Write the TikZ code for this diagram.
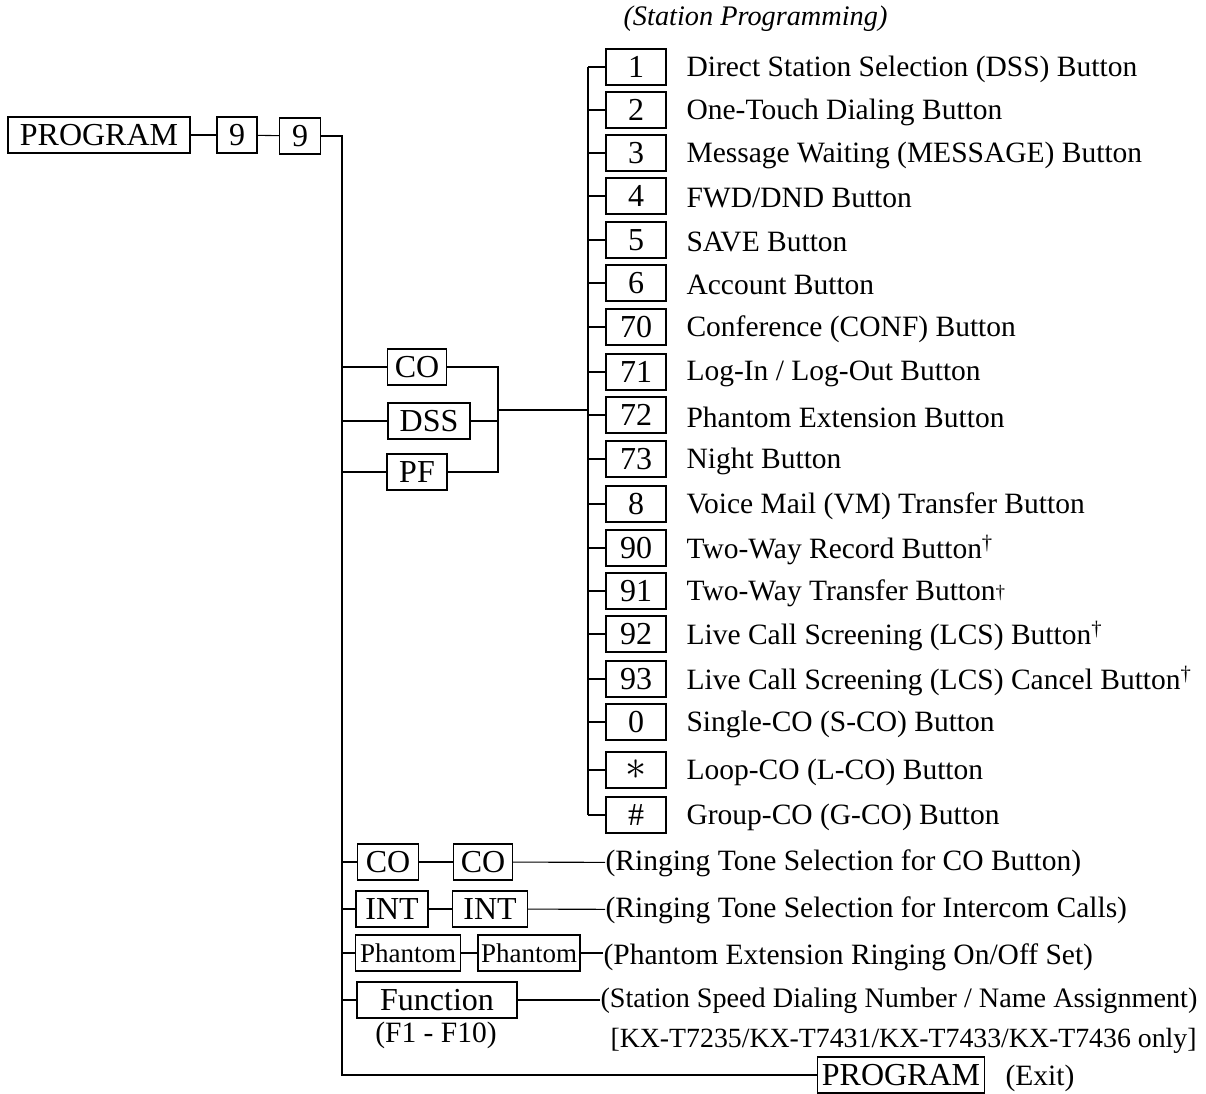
\documentclass[tikz,border=0pt]{standalone}
\usepackage{fontspec}
\setmainfont{Liberation Serif}
\begin{document}
\begin{tikzpicture}[x=1pt,y=-1pt,line width=1.1pt,
    key/.style={draw,inner sep=0pt,minimum height=36pt,font=\fontsize{32}{34}\selectfont},
    lbl/.style={anchor=west,inner sep=0pt,font=\fontsize{29.5}{32}\selectfont}]
    \useasboundingbox (0,0) rectangle (1206,1093);
    % top row
    \node[key,minimum width=182pt] (prog) at (99,135) {PROGRAM};
    \node[key,minimum width=40pt] (nineA) at (237,135) {9};
    \node[key,minimum width=41pt] (nineB) at (300,136) {9};
    \coordinate (trunk) at (342,137);
    \coordinate (sub) at (588,410);
    \draw (prog) -- (nineA);
    \draw (nineA) -- (nineB);
    \node[lbl,font=\fontsize{28.3}{30}\selectfont\itshape] (title) at (623,19) {(Station Programming)};
    % button keys
    \foreach \y/\n/\t [count=\i] in {
        67/1/Direct Station Selection (DSS) Button,
        110/2/One-Touch Dialing Button,
        153/3/Message Waiting (MESSAGE) Button,
        196/4/{FWD/DND Button},
        240/5/SAVE Button,
        283/6/Account Button,
        327/70/Conference (CONF) Button,
        372/71/{Log-In / Log-Out Button},
        415/72/Phantom Extension Button,
        459/73/Night Button,
        504/8/Voice Mail (VM) Transfer Button,
        548/90/Two-Way Record Button\textsuperscript{†},
        591/91/Two-Way Transfer Button\raisebox{2pt}{\fontsize{19}{20}\selectfont †},
        634/92/Live Call Screening (LCS) Button\textsuperscript{†},
        679/93/Live Call Screening (LCS) Cancel Button\textsuperscript{†},
        722/0/Single-CO (S-CO) Button,
        770/\scalebox{1.7}{$\ast$}/Loop-CO (L-CO) Button,
        815/\#/Group-CO (G-CO) Button}{
        \node[key,minimum width=60pt] (key\i) at (636,\y) {\n};
        \node[lbl] (txt\i) at (686,\y+2) {\t};
        \draw (key\i.west) -- (key\i.west -| sub);
    }
    \draw (key1.west -| sub) -- (key18.west -| sub);
    % CO / DSS / PF
    \node[key,minimum width=59pt] (co) at (417,367) {CO};
    \node[key,minimum width=82pt] (dss) at (429,421) {DSS};
    \node[key,minimum width=60pt] (pf) at (417,472) {PF};
    \coordinate (join) at (498,410);
    \draw (co.east) -| (join);
    \draw (pf.east) -| (join);
    \draw (dss.east) -- (dss.east -| join);
    \draw (join) -- (join -| sub);
    % ringing / function rows
    \node[key,minimum width=61pt] (coA) at (388,862) {CO};
    \node[key,minimum width=59pt] (coB) at (483,862) {CO};
    \node[lbl] (ringCO) at (605,863) {(Ringing Tone Selection for CO Button)};
    \node[key,minimum width=72pt] (intA) at (392,909) {INT};
    \node[key,minimum width=75pt] (intB) at (490,909) {INT};
    \node[lbl] (ringINT) at (605,910) {(Ringing Tone Selection for Intercom Calls)};
    \node[key,minimum width=105pt,font=\fontsize{27}{29}\selectfont] (phA) at (408,953) {Phantom};
    \node[key,minimum width=102pt,font=\fontsize{27}{29}\selectfont] (phB) at (529,953) {Phantom};
    \node[lbl,font=\fontsize{29.5}{31}\selectfont] (ringPH) at (603,957) {(Phantom Extension Ringing On/Off Set)};
    \node[key,minimum width=160pt] (fn) at (437,1000) {Function};
    \node[lbl,anchor=center] (fkeys) at (436,1035) {(F1 - F10)};
    \node[lbl,font=\fontsize{28.2}{31}\selectfont] (speed) at (600,1001) {(Station Speed Dialing Number / Name Assignment)};
    \node[lbl,font=\fontsize{27.8}{31}\selectfont] (models) at (610,1041) {[KX-T7235/KX-T7431/KX-T7433/KX-T7436 only]};
    \draw (coA) -- (coB);
    \draw (coB) -- (ringCO);
    \draw (intA) -- (intB);
    \draw (intB) -- (ringINT);
    \draw (phA) -- (phB);
    \draw (phB) -- (ringPH.west |- phB);
    \draw (fn) -- (speed.west |- fn);
    % exit
    \node[key,minimum width=167pt] (progExit) at (901,1075) {PROGRAM};
    \node[lbl] (exit) at (1005,1078) {(Exit)};
    % main trunk
    \draw (nineB.east) -| (trunk) -- (trunk |- progExit) -- (progExit.west);
    \foreach \n in {co,dss,pf,coA,intA,phA,fn}
        \draw (\n.west) -- (\n.west -| trunk);
\end{tikzpicture}
\end{document}
